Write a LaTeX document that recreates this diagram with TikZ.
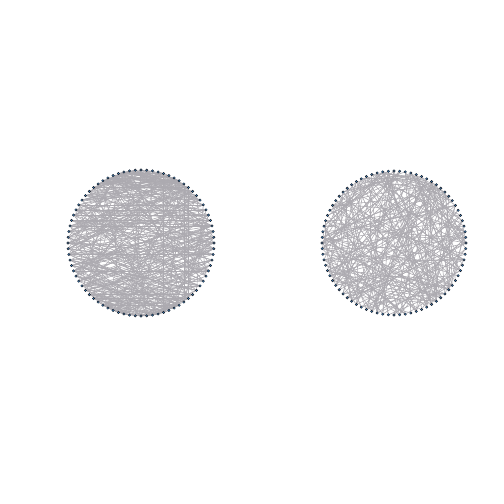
\documentclass[tikz,border=0pt]{standalone}
\usetikzlibrary{backgrounds}
\definecolor{edgegray}{RGB}{172,170,176}
\definecolor{dotblue}{RGB}{60,130,190}
\definecolor{dotdark}{RGB}{25,30,40}
\tikzset{
  vertex/.style={circle, draw=dotdark, fill=dotblue, line width=0.45pt,
    inner sep=0pt, minimum size=2.4pt},
  link/.style={draw=edgegray, line width=0.6pt}
}
\begin{document}
\begin{tikzpicture}[x=1pt, y=1pt]
  \useasboundingbox (0,0) rectangle (504,504);
  \pgfmathsetseed{4711}
  % vertices on the two rings
  \foreach \i in {0,...,79} {
    \node[vertex] (l\i) at ({141+73*cos(4.5*\i)}, {261+73*sin(4.5*\i)}) {};
    \node[vertex] (r\i) at ({394+72*cos(4.5*\i)}, {261+72*sin(4.5*\i)}) {};
  }
  \begin{scope}[on background layer]
    % left ring: dense, mostly across
    \foreach \k in {1,...,260} {
      \pgfmathsetmacro{\a}{int(random(0,79))}
      \pgfmathsetmacro{\b}{int(mod(120-\a+random(-12,12),80))}
      \draw[link] (l\a) -- (l\b);
    }
    \foreach \k in {1,...,120} {
      \pgfmathsetmacro{\a}{int(random(0,79))}
      \pgfmathsetmacro{\b}{int(mod(\a+random(15,65),80))}
      \draw[link] (l\a) -- (l\b);
    }
    % right ring: random chords, some curved
    \foreach \k in {1,...,220} {
      \pgfmathsetmacro{\a}{int(random(0,79))}
      \pgfmathsetmacro{\b}{int(mod(\a+random(12,68),80))}
      \pgfmathsetmacro{\c}{random(-15,15)}
      \draw[link] (r\a) to[bend left=\c] (r\b);
    }
  \end{scope}
\end{tikzpicture}
\end{document}
